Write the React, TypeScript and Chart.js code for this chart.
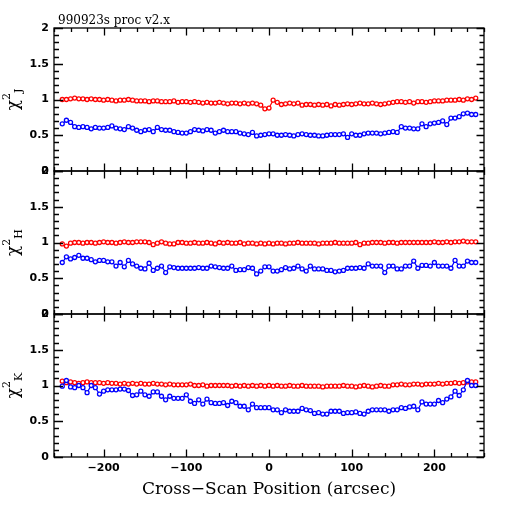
import React, { useEffect, useRef } from "react";
import { Chart, registerables } from "chart.js";

Chart.register(...registerables);

const xPositions = [
  -250, -245, -240, -235, -230, -225, -220, -215, -210, -205,
  -200, -195, -190, -185, -180, -175, -170, -165, -160, -155,
  -150, -145, -140, -135, -130, -125, -120, -115, -110, -105,
  -100, -95, -90, -85, -80, -75, -70, -65, -60, -55,
  -50, -45, -40, -35, -30, -25, -20, -15, -10, -5,
  0, 5, 10, 15, 20, 25, 30, 35, 40, 45,
  50, 55, 60, 65, 70, 75, 80, 85, 90, 95,
  100, 105, 110, 115, 120, 125, 130, 135, 140, 145,
  150, 155, 160, 165, 170, 175, 180, 185, 190, 195,
  200, 205, 210, 215, 220, 225, 230, 235, 240, 245,
  250,
];

const chiJRed = [
  1.0, 1.0, 1.01, 1.02, 1.01, 1.01, 1.0, 1.01, 1.0, 1.0,
  0.99, 1.0, 0.99, 0.98, 0.99, 0.99, 1.0, 0.99, 0.98, 0.98,
  0.98, 0.97, 0.98, 0.98, 0.97, 0.97, 0.97, 0.98, 0.96, 0.97,
  0.97, 0.96, 0.97, 0.96, 0.95, 0.96, 0.95, 0.95, 0.96, 0.95,
  0.94, 0.95, 0.95, 0.94, 0.95, 0.94, 0.95, 0.94, 0.92, 0.87,
  0.88, 0.99, 0.96, 0.93, 0.94, 0.95, 0.94, 0.95, 0.92, 0.93,
  0.93, 0.92, 0.93, 0.92, 0.93, 0.91, 0.93, 0.92, 0.93, 0.94,
  0.93, 0.94, 0.95, 0.94, 0.94, 0.95, 0.94, 0.93, 0.94, 0.95,
  0.96, 0.97, 0.97, 0.96, 0.97, 0.95, 0.97, 0.97, 0.96, 0.97,
  0.98, 0.98, 0.98, 0.99, 0.99, 0.99, 1.0, 0.99, 1.01, 1.0,
  1.02,
];

const chiJBlue = [
  0.66, 0.71, 0.68, 0.62, 0.61, 0.62, 0.61, 0.59, 0.61, 0.6,
  0.6, 0.61, 0.63, 0.6, 0.59, 0.58, 0.62, 0.6, 0.57, 0.55,
  0.57, 0.58, 0.55, 0.61, 0.58, 0.57, 0.57, 0.55, 0.54, 0.53,
  0.53, 0.55, 0.58, 0.57, 0.56, 0.58, 0.57, 0.53, 0.55, 0.57,
  0.55, 0.55, 0.55, 0.53, 0.52, 0.51, 0.54, 0.49, 0.5, 0.51,
  0.52, 0.52, 0.5, 0.5, 0.51, 0.5, 0.49, 0.51, 0.52, 0.51,
  0.5, 0.5, 0.49, 0.49, 0.5, 0.51, 0.51, 0.51, 0.52, 0.47,
  0.52, 0.5, 0.5, 0.52, 0.53, 0.53, 0.53, 0.52, 0.53, 0.54,
  0.55, 0.54, 0.62, 0.6, 0.6, 0.59, 0.59, 0.66, 0.62, 0.66,
  0.67, 0.68, 0.7, 0.65, 0.74, 0.74, 0.76, 0.8, 0.81, 0.79,
  0.79,
];

const chiHRed = [
  0.98, 0.95, 0.99, 1.0, 1.0, 0.99, 1.0, 1.0, 0.99, 1.0,
  1.01, 1.0, 1.0, 0.99, 1.0, 1.01, 1.0, 1.0, 1.01, 1.01,
  1.01, 1.0, 0.97, 0.99, 1.01, 0.99, 0.98, 0.98, 1.0, 1.0,
  0.99, 0.99, 1.0, 0.99, 0.99, 1.0, 0.99, 0.98, 1.0, 0.99,
  1.0, 0.99, 0.99, 1.0, 0.98, 0.99, 0.99, 0.98, 0.99, 0.98,
  0.99, 0.98, 0.99, 0.99, 0.98, 0.99, 0.99, 1.0, 0.99, 0.99,
  0.99, 0.99, 0.98, 0.99, 0.99, 0.99, 1.0, 0.99, 0.99, 0.99,
  0.99, 1.0, 0.97, 0.99, 0.99, 1.0, 1.0, 1.0, 0.99, 1.0,
  1.0, 0.99, 1.0, 1.0, 1.0, 1.0, 1.0, 1.0, 1.0, 1.0,
  1.01, 1.0, 1.0, 1.01, 1.0, 1.01, 1.01, 1.02, 1.01, 1.01,
  1.01,
];

const chiHBlue = [
  0.72, 0.8, 0.77, 0.79, 0.82, 0.78, 0.78, 0.76, 0.73, 0.75,
  0.75, 0.73, 0.73, 0.67, 0.72, 0.66, 0.75, 0.7, 0.67, 0.64,
  0.63, 0.71, 0.61, 0.64, 0.67, 0.58, 0.66, 0.65, 0.64, 0.64,
  0.64, 0.64, 0.64, 0.65, 0.64, 0.64, 0.67, 0.66, 0.65, 0.64,
  0.64, 0.67, 0.61, 0.62, 0.62, 0.65, 0.64, 0.56, 0.6, 0.66,
  0.66, 0.6, 0.6, 0.62, 0.65, 0.63, 0.64, 0.67, 0.63, 0.6,
  0.67, 0.63, 0.63, 0.63, 0.61, 0.61, 0.59, 0.6, 0.61, 0.64,
  0.64, 0.64, 0.65, 0.64, 0.7, 0.67, 0.67, 0.67, 0.58, 0.67,
  0.67, 0.63, 0.63, 0.67, 0.67, 0.74, 0.64, 0.68, 0.68, 0.67,
  0.72, 0.67, 0.67, 0.67, 0.64, 0.75, 0.67, 0.67, 0.74, 0.72,
  0.72,
];

const chiKRed = [
  1.06, 1.04, 1.05, 1.04, 1.03, 1.04, 1.05, 1.04, 1.04, 1.04,
  1.03, 1.04, 1.03, 1.03, 1.02, 1.03, 1.02, 1.03, 1.02, 1.03,
  1.02, 1.02, 1.03, 1.02, 1.02, 1.01, 1.02, 1.01, 1.01, 1.01,
  1.01, 1.02, 1.0, 1.0, 1.01, 0.99, 1.0, 1.0, 1.0, 1.0,
  1.0, 0.99, 1.0, 0.99, 1.0, 0.99, 1.0, 0.99, 1.0, 0.99,
  1.0, 0.99, 1.0, 0.99, 0.99, 1.0, 0.99, 0.99, 1.0, 0.99,
  0.99, 0.99, 0.99, 0.98, 0.99, 0.99, 0.99, 0.99, 1.0, 0.99,
  0.99, 0.98, 0.99, 1.0, 0.99, 0.98, 0.99, 1.0, 0.99, 0.99,
  1.01, 1.01, 1.02, 1.01, 1.01, 1.02, 1.02, 1.01, 1.02, 1.02,
  1.02, 1.03, 1.02, 1.03, 1.03, 1.04, 1.03, 1.04, 1.05, 1.05,
  1.05,
];

const chiKBlue = [
  0.99, 1.07, 0.98, 0.97, 1.0, 0.97, 0.9, 1.0, 0.97, 0.88,
  0.92, 0.94, 0.94, 0.94, 0.95, 0.95, 0.93, 0.86, 0.87, 0.92,
  0.87, 0.85, 0.91, 0.91, 0.85, 0.8, 0.85, 0.82, 0.82, 0.82,
  0.87, 0.78, 0.75, 0.8, 0.74, 0.81, 0.76, 0.75, 0.75, 0.76,
  0.72, 0.78, 0.76, 0.71, 0.71, 0.66, 0.74, 0.69, 0.69, 0.69,
  0.69, 0.66, 0.66, 0.62, 0.66, 0.64, 0.64, 0.64, 0.68, 0.66,
  0.65, 0.61, 0.62, 0.6, 0.6, 0.64, 0.64, 0.64, 0.61, 0.62,
  0.62, 0.63, 0.61, 0.6, 0.64, 0.66, 0.66, 0.66, 0.66, 0.64,
  0.66, 0.66, 0.69, 0.68, 0.7, 0.71, 0.66, 0.77, 0.74, 0.74,
  0.74, 0.79, 0.76, 0.81, 0.84, 0.92, 0.86, 0.94, 1.07, 1.0,
  1.0,
];

const panelIds = ["yJ", "yH", "yK"];
const panelLetters = ["J", "H", "K"];
const panelRed = [chiJRed, chiHRed, chiKRed];
const panelBlue = [chiJBlue, chiHBlue, chiKBlue];

const xMin = -260;
const xMax = 260;
const yMin = 0;
const yMax = 2;
const yTickValues = [0, 0.5, 1, 1.5, 2];
const yTickLabels = ["0", "0.5", "1", "1.5", "2"];
const xTickValues = [-200, -100, 0, 100, 200];
const xTickLabels = ["\u2212200", "\u2212100", "0", "100", "200"];
const titleText = "990923s proc v2.x";
const xTitleText = "Cross\u2212Scan Position (arcsec)";

const RED = "#ff0000";
const BLUE = "#0000ff";

const framePlugin = {
  id: "framePlugin",
  afterDraw(chart: any) {
    const ctx = chart.ctx as CanvasRenderingContext2D;
    const xs = chart.scales.x;
    const left = xs.left;
    const right = xs.right;
    ctx.save();
    ctx.strokeStyle = "#000";
    ctx.fillStyle = "#000";
    ctx.lineWidth = 1.3;

    panelIds.forEach((id, p) => {
      const ys = chart.scales[id];
      const top = ys.top;
      const bottom = ys.bottom;
      ctx.strokeRect(left, top, right - left, bottom - top);

      ctx.beginPath();
      for (let k = 0; k <= 20; k++) {
        const v = yMin + k * 0.1;
        const py = Math.round(ys.getPixelForValue(v)) + 0.5;
        const major = k % 5 === 0;
        ctx.moveTo(left, py);
        ctx.lineTo(left + (major ? 9 : 5), py);
        ctx.moveTo(right, py);
        ctx.lineTo(right - (major ? 7.5 : 4.5), py);
      }
      for (let v = -260; v <= 260; v += 20) {
        const px = Math.round(xs.getPixelForValue(v)) + 0.5;
        const major = v % 100 === 0;
        const len = major ? 7.5 : 4;
        ctx.moveTo(px, top);
        ctx.lineTo(px, top + len);
        ctx.moveTo(px, bottom);
        ctx.lineTo(px, bottom - len);
      }
      ctx.stroke();

      ctx.font = "bold 11px 'DejaVu Sans'";
      ctx.textAlign = "right";
      ctx.textBaseline = "middle";
      yTickValues.forEach((v, i) => {
        ctx.fillText(yTickLabels[i], left - 5, ys.getPixelForValue(v));
      });

      // y axis title: chi, superscript 2, then subscript band letter
      const cy = (top + bottom) / 2;
      ctx.save();
      ctx.translate(15, cy);
      ctx.rotate(-Math.PI / 2);
      ctx.textAlign = "left";
      ctx.textBaseline = "alphabetic";
      ctx.font = "17px 'DejaVu Serif'";
      const wChi = ctx.measureText("\u03c7").width;
      ctx.font = "11px 'DejaVu Serif'";
      const w2 = ctx.measureText("2").width;
      const wL = ctx.measureText(panelLetters[p]).width;
      const sx = -(wChi + w2 + wL) / 2;
      ctx.font = "17px 'DejaVu Serif'";
      ctx.fillText("\u03c7", sx, 3);
      ctx.font = "11px 'DejaVu Serif'";
      ctx.fillText("2", sx + wChi, -5);
      ctx.fillText(panelLetters[p], sx + wChi + w2, 7);
      ctx.restore();

      if (p === panelIds.length - 1) {
        ctx.font = "bold 11px 'DejaVu Sans'";
        ctx.textAlign = "center";
        ctx.textBaseline = "top";
        xTickValues.forEach((v, i) => {
          ctx.fillText(xTickLabels[i], xs.getPixelForValue(v), bottom + 6);
        });
      }
    });

    ctx.font = "12px 'DejaVu Serif'";
    ctx.textAlign = "left";
    ctx.textBaseline = "alphabetic";
    ctx.fillText(titleText, left + 4, 24);

    ctx.font = "17px 'DejaVu Serif'";
    ctx.textAlign = "center";
    ctx.fillText(xTitleText, (left + right) / 2, 494);
    ctx.restore();
  },
};

function makeDataset(values: number[], color: string, axisId: string) {
  return {
    data: xPositions.map((x, i) => ({ x, y: values[i] })),
    yAxisID: axisId,
    xAxisID: "x",
    borderColor: color,
    borderWidth: 1.2,
    backgroundColor: "#ffffff",
    pointBackgroundColor: "#ffffff",
    pointBorderColor: color,
    pointBorderWidth: 1.3,
    pointRadius: 2,
    pointStyle: "circle",
    showLine: true,
    fill: false,
    tension: 0,
  };
}

export default function App() {
  const canvasRef = useRef<HTMLCanvasElement | null>(null);

  useEffect(() => {
    if (!canvasRef.current) return;
    const datasets: any[] = [];
    panelIds.forEach((id, p) => {
      datasets.push(makeDataset(panelBlue[p], BLUE, id));
      datasets.push(makeDataset(panelRed[p], RED, id));
    });
    const yScale = () => ({
      type: "linear",
      min: yMin,
      max: yMax,
      display: false,
      position: "right",
      stack: "panels",
      stackWeight: 1,
    });
    const chart = new Chart(canvasRef.current, {
      type: "scatter",
      data: { datasets },
      options: {
        animation: false,
        responsive: false,
        devicePixelRatio: 1,
        layout: { padding: { left: 54, right: 28, top: 28, bottom: 55 } },
        plugins: {
          legend: { display: false },
          tooltip: { enabled: false },
          title: { display: false },
        },
        events: [],
        scales: {
          x: { type: "linear", min: xMin, max: xMax, display: false },
          yJ: yScale(),
          yH: yScale(),
          yK: yScale(),
        } as any,
      },
      plugins: [framePlugin],
    } as any);
    return () => chart.destroy();
  }, []);

  return (
    <div
      style={{
        position: "fixed",
        left: 0,
        top: 0,
        width: 512,
        height: 512,
        background: "#ffffff",
      }}
    >
      <canvas ref={canvasRef} width={512} height={512} style={{ display: "block" }} />
    </div>
  );
}
